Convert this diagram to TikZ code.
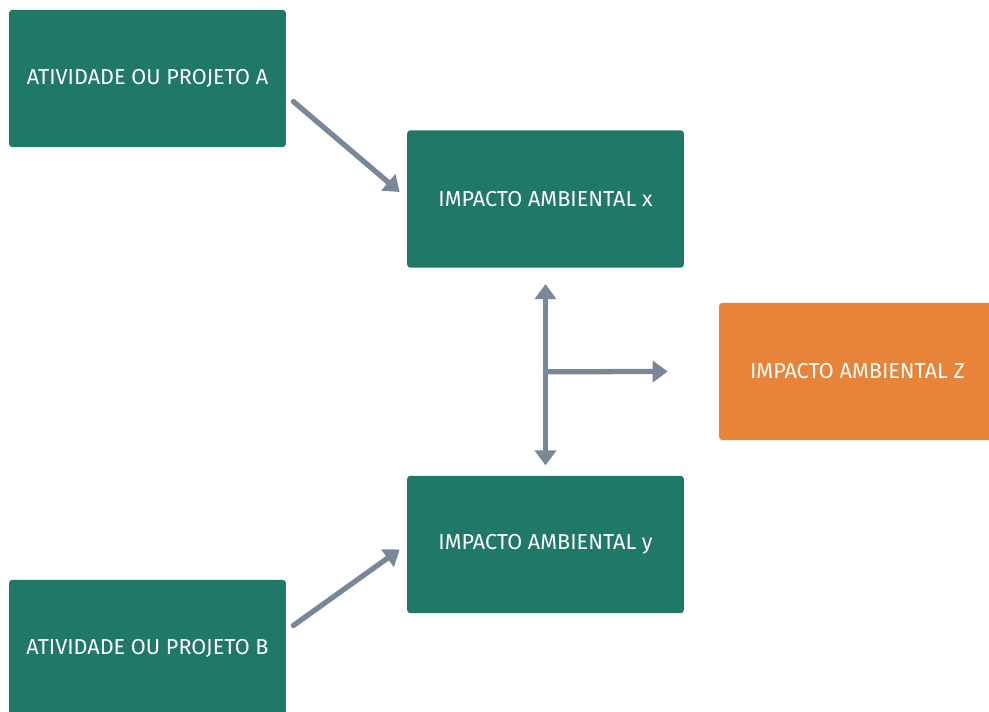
\documentclass[tikz,border=0pt]{standalone}
\usepackage{fontspec}
\setmainfont{Fira Sans}
\usetikzlibrary{positioning,arrows.meta,calc}
\definecolor{boxgreen}{RGB}{32,121,104}
\definecolor{boxorange}{RGB}{232,131,58}
\definecolor{arrowgray}{RGB}{120,136,152}

\begin{document}
\begin{tikzpicture}[x=0.02cm,y=-0.02cm,
    impbox/.style={fill=boxgreen, rounded corners=2pt, text=white, minimum width=5.54cm, minimum height=2.75cm, font=\fontsize{12.3}{14}\selectfont, inner sep=0pt},
    zbox/.style={impbox, fill=boxorange},
    conn/.style={draw=arrowgray, line width=3pt, line cap=round, -{Triangle[length=0.3cm,width=0.42cm]}}]
    \useasboundingbox (0,0) rectangle (989,712);
    \clip (0,0) rectangle (989,712);
        % boxes
        \node[impbox] (ativA) at (147.5,78.5) {ATIVIDADE OU PROJETO A};
        \node[impbox] (impX) at (545.5,199) {IMPACTO AMBIENTAL x};
        \node[zbox] (impZ) at (857.5,371.5) {IMPACTO AMBIENTAL Z};
        \node[impbox] (impY) at (545.5,544.5) {IMPACTO AMBIENTAL y};
        \node[impbox] (ativB) at (147.5,648.5) {ATIVIDADE OU PROJETO B};
        % connectors
        \coordinate (juncXY) at ($(impX.south)!0.5!(impY.north)$);
        \draw[conn] ($(ativA.east)+(7,23)$) -- ($(impX.west)+(-7,-7)$);
        \draw[conn] ($(ativB.east)+(7,-23)$) -- ($(impY.west)+(-7,5)$);
        \draw[conn, {Triangle[length=0.3cm,width=0.42cm]}-{Triangle[length=0.3cm,width=0.42cm]}] ($(impX.south)+(0,16)$) -- ($(impY.north)+(0,-10)$);
        \draw[conn] (juncXY) -- ($(impZ.west)+(-51,0)$);
\end{tikzpicture}
\end{document}
